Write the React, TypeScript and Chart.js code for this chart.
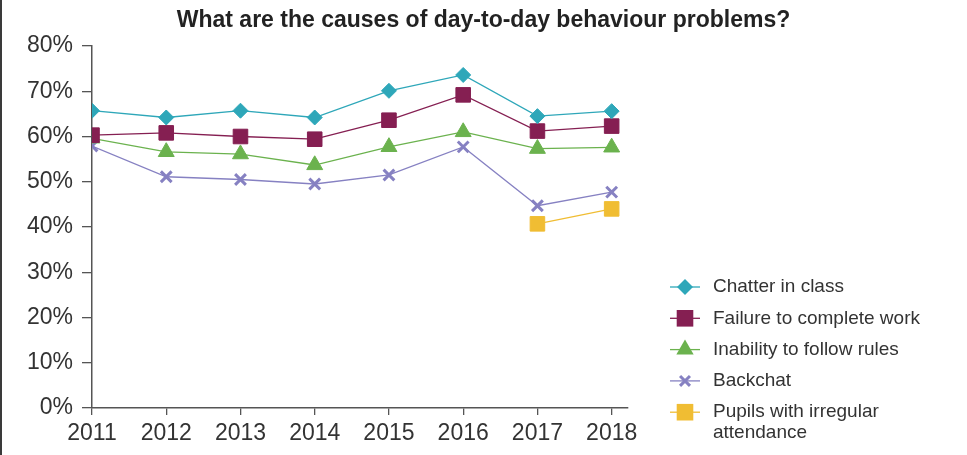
import React, { useEffect, useRef } from 'react';
import { Chart, registerables } from 'chart.js';

Chart.register(...registerables);

const TITLE = 'What are the causes of day-to-day behaviour problems?';
const years = [2011, 2012, 2013, 2014, 2015, 2016, 2017, 2018];
const yTickValues = [0, 10, 20, 30, 40, 50, 60, 70, 80];

const chatter = [65.7, 64.2, 65.7, 64.2, 70.1, 73.6, 64.5, 65.6];
const failure = [60.3, 60.8, 60.0, 59.4, 63.6, 69.2, 61.2, 62.3];
const inability = [59.6, 56.6, 56.1, 53.7, 57.7, 61.0, 57.3, 57.6];
const backchat = [57.9, 51.1, 50.5, 49.5, 51.5, 57.7, 44.7, 47.7];
const irregular: (number | null)[] = [null, null, null, null, null, null, 40.7, 44.0];

const seriesLabels = [
  'Chatter in class',
  'Failure to complete work',
  'Inability to follow rules',
  'Backchat',
  'Pupils with irregular attendance',
];

const FONT = '"Liberation Sans", Arial, Helvetica, sans-serif';

const styles = [
  { color: '#2ea7b9', style: 'rectRot', radius: 7.5, border: 1, legendR: 8 },
  { color: '#851f52', style: 'rect', radius: 10.3, border: 1, legendR: 8.3 },
  { color: '#6bb24e', style: 'triangle', radius: 9.2, border: 1, legendR: 10 },
  { color: '#8681c2', style: 'crossRot', radius: 7.6, border: 3, legendR: 8 },
  { color: '#f0bd33', style: 'rect', radius: 10.3, border: 1, legendR: 8.3 },
];

const seriesValues = [chatter, failure, inability, backchat, irregular];

function drawMarker(ctx: CanvasRenderingContext2D, style: string, x: number, y: number, r: number, color: string) {
  ctx.save();
  ctx.fillStyle = color;
  ctx.strokeStyle = color;
  ctx.beginPath();
  if (style === 'rectRot') {
    ctx.moveTo(x - r, y);
    ctx.lineTo(x, y - r);
    ctx.lineTo(x + r, y);
    ctx.lineTo(x, y + r);
    ctx.closePath();
    ctx.fill();
  } else if (style === 'rect') {
    ctx.rect(x - r, y - r, 2 * r, 2 * r);
    ctx.fill();
  } else if (style === 'triangle') {
    ctx.moveTo(x, y - r);
    ctx.lineTo(x + r * 0.866, y + r / 2);
    ctx.lineTo(x - r * 0.866, y + r / 2);
    ctx.closePath();
    ctx.fill();
  } else if (style === 'crossRot') {
    const d = r * 0.62;
    ctx.lineWidth = 3;
    ctx.moveTo(x - d, y - d);
    ctx.lineTo(x + d, y + d);
    ctx.moveTo(x + d, y - d);
    ctx.lineTo(x - d, y + d);
    ctx.stroke();
  }
  ctx.restore();
}

const legendPlugin = {
  id: 'customLegend',
  afterDraw(chart: any) {
    const ctx: CanvasRenderingContext2D = chart.ctx;
    ctx.save();
    // left frame line
    ctx.fillStyle = '#3a3a3a';
    ctx.fillRect(0, 0, 2, chart.height);

    // title centred on the whole page
    ctx.fillStyle = '#222';
    ctx.font = `bold 23px ${FONT}`;
    ctx.textAlign = 'center';
    ctx.textBaseline = 'middle';
    ctx.fillText(TITLE, chart.width / 2, 21);

    const area = chart.chartArea;
    const lineX0 = area.right + 42;
    const lineX1 = area.right + 72;
    const markX = area.right + 57;
    const textX = area.right + 85;
    ctx.font = `19px ${FONT}`;
    ctx.textBaseline = 'middle';
    ctx.textAlign = 'left';
    let y = 287;
    chart.data.datasets.forEach((ds: any, i: number) => {
      const st = styles[i];
      ctx.strokeStyle = st.color;
      ctx.lineWidth = 1.3;
      ctx.beginPath();
      ctx.moveTo(lineX0, y);
      ctx.lineTo(lineX1, y);
      ctx.stroke();
      drawMarker(ctx, st.style, markX, y, st.legendR, st.color);
      const words = String(ds.label).split(' ');
      const lines: string[] = [];
      let cur = '';
      words.forEach((w) => {
        const test = cur ? cur + ' ' + w : w;
        if (ctx.measureText(test).width > 235 && cur) {
          lines.push(cur);
          cur = w;
        } else cur = test;
      });
      if (cur) lines.push(cur);
      ctx.fillStyle = '#333';
      lines.forEach((ln, k) => ctx.fillText(ln, textX, y + k * 20.5));
      y += 31.3 + (lines.length - 1) * 20.5;
    });
    ctx.restore();
  },
};

export default function App() {
  const ref = useRef<HTMLCanvasElement | null>(null);
  useEffect(() => {
    document.body.style.margin = '0';
    if (!ref.current) return;
    const datasets = seriesValues.map((vals, i) => ({
      label: seriesLabels[i],
      data: years.map((x, k) => ({ x, y: vals[k] })),
      borderColor: styles[i].color,
      backgroundColor: styles[i].color,
      pointBackgroundColor: styles[i].color,
      pointBorderColor: styles[i].color,
      pointStyle: styles[i].style as any,
      pointRadius: styles[i].radius,
      pointBorderWidth: styles[i].border,
      borderWidth: 1.3,
      spanGaps: false,
    }));
    const chart = new Chart(ref.current, {
      type: 'line',
      data: { datasets },
      plugins: [legendPlugin],
      options: {
        animation: false,
        responsive: true,
        maintainAspectRatio: false,
        layout: { padding: { left: 0, right: 339, top: 46, bottom: 0 } },
        plugins: {
          legend: { display: false },
          tooltip: { enabled: false },
          title: { display: false },
        },
        scales: {
          x: {
            type: 'linear',
            min: years[0],
            max: years[years.length - 1] + 0.22,
            afterBuildTicks: (scale: any) => {
              scale.ticks = years.map((v) => ({ value: v }));
            },
            afterFit: (scale: any) => {
              scale.height = 47;
            },
            ticks: {
              callback: (v: any) => String(v),
              color: '#333',
              font: { family: FONT, size: 23 },
              padding: 5,
              maxRotation: 0,
              autoSkip: false,
            },
            grid: { drawOnChartArea: false, drawTicks: true, tickLength: 7, color: '#555', lineWidth: 1.3 },
            border: { display: true, color: '#555', width: 1.5 },
          },
          y: {
            min: 0,
            max: 80,
            afterBuildTicks: (scale: any) => {
              scale.ticks = yTickValues.map((v) => ({ value: v }));
            },
            afterFit: (scale: any) => {
              scale.width = 92;
            },
            ticks: {
              callback: (v: any) => v + '%',
              color: '#333',
              font: { family: FONT, size: 23 },
              padding: 9,
            },
            grid: { drawOnChartArea: false, drawTicks: true, tickLength: 10, color: '#555', lineWidth: 1.3 },
            border: { display: true, color: '#555', width: 1.5 },
          },
        },
      },
    });
    return () => chart.destroy();
  }, []);
  return (
    <div style={{ width: 967, height: 455, position: 'relative' }}>
      <canvas ref={ref} />
    </div>
  );
}
